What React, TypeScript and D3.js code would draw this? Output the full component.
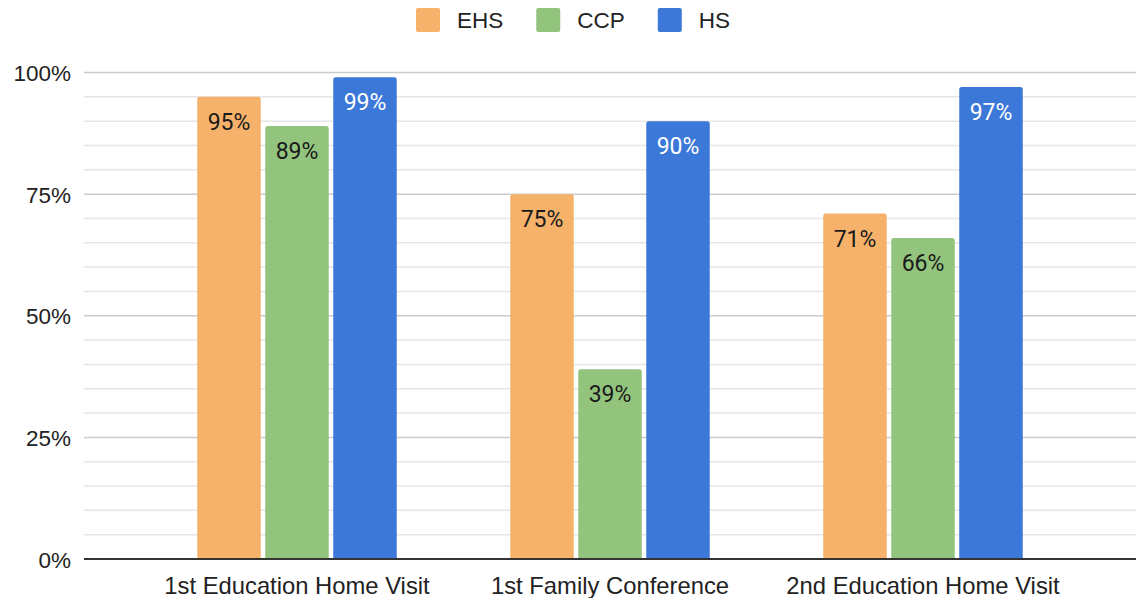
import React, { useEffect, useRef } from 'react';
import * as d3 from 'd3';

const categories = ['1st Education Home Visit', '1st Family Conference', '2nd Education Home Visit'];
const seriesNames = ['EHS', 'CCP', 'HS'];
const ehsValues = [0.95, 0.75, 0.71];
const ccpValues = [0.89, 0.39, 0.66];
const hsValues = [0.99, 0.9, 0.97];
const seriesColors = ['#f6b26b', '#93c47d', '#3c78d8'];
const labelColors = ['#1a1a1a', '#1a1a1a', '#ffffff'];
const majorTicks = [0, 0.25, 0.5, 0.75, 1];

const App: React.FC = () => {
  const svgRef = useRef<SVGSVGElement | null>(null);

  useEffect(() => {
    if (!svgRef.current) return;
    document.body.style.margin = '0';

    const width = 1138;
    const height = 598;
    const margin = { top: 72.5, right: 2, bottom: 39, left: 84 };
    const axisFont = 'Arial, "Liberation Sans", sans-serif';

    const svg = d3.select(svgRef.current);
    svg.selectAll('*').remove();
    svg.attr('width', width).attr('height', height).attr('viewBox', `0 0 ${width} ${height}`);

    const values = [ehsValues, ccpValues, hsValues];
    const rows = categories.map((c, i) => ({
      category: c,
      items: seriesNames.map((s, j) => ({ series: s, idx: j, value: values[j][i] })),
    }));

    const x0 = d3
      .scaleBand()
      .domain(categories)
      .range([margin.left, width - margin.right])
      .paddingInner(0.3626)
      .paddingOuter(0.3618);

    const x1 = d3.scaleBand().domain(seriesNames).range([0, x0.bandwidth()]).paddingInner(0.066);

    const y = d3
      .scaleLinear()
      .domain([0, 1])
      .range([height - margin.bottom, margin.top]);

    // Minor gridlines every 5%
    const minor = d3.range(0, 1.0001, 0.05).filter((t) => !majorTicks.some((m) => Math.abs(m - t) < 1e-6));
    svg
      .append('g')
      .selectAll('line')
      .data(minor)
      .enter()
      .append('line')
      .attr('x1', margin.left)
      .attr('x2', width - margin.right)
      .attr('y1', (d) => y(d))
      .attr('y2', (d) => y(d))
      .attr('stroke', '#e6e6e6')
      .attr('stroke-width', 1.5);

    // Major gridlines
    svg
      .append('g')
      .selectAll('line')
      .data(majorTicks.filter((t) => t > 0))
      .enter()
      .append('line')
      .attr('x1', margin.left)
      .attr('x2', width - margin.right)
      .attr('y1', (d) => y(d))
      .attr('y2', (d) => y(d))
      .attr('stroke', '#cccccc')
      .attr('stroke-width', 1.5);

    // Y axis labels
    const yAxis = d3
      .axisLeft(y)
      .tickValues(majorTicks)
      .tickSize(0)
      .tickPadding(13)
      .tickFormat((d) => d3.format('.0%')(d as number));
    const yg = svg.append('g').attr('transform', `translate(${margin.left},0)`).call(yAxis);
    yg.select('.domain').remove();
    yg.selectAll('text')
      .attr('fill', '#222')
      .attr('font-size', '22.5px')
      .attr('font-family', axisFont)
      .attr('dy', '0.36em');

    // Bars
    const groups = svg
      .selectAll('.grp')
      .data(rows)
      .enter()
      .append('g')
      .attr('class', 'grp')
      .attr('transform', (d) => `translate(${x0(d.category)},0)`);

    const r = 2.5;
    groups
      .selectAll('path')
      .data((d) => d.items)
      .enter()
      .append('path')
      .attr('fill', (d) => seriesColors[d.idx])
      .attr('d', (d) => {
        const bx = x1(d.series) || 0;
        const bw = x1.bandwidth();
        const top = y(d.value);
        const bottom = y(0);
        return `M${bx},${bottom}V${top + r}Q${bx},${top} ${bx + r},${top}H${bx + bw - r}Q${bx + bw},${top} ${bx + bw},${top + r}V${bottom}Z`;
      });

    groups
      .selectAll('text')
      .data((d) => d.items)
      .enter()
      .append('text')
      .attr('x', (d) => (x1(d.series) || 0) + x1.bandwidth() / 2)
      .attr('y', (d) => y(d.value) + 33)
      .attr('text-anchor', 'middle')
      .attr('fill', (d) => labelColors[d.idx])
      .attr('font-size', '23px')
      .attr('font-family', 'Roboto, "Noto Sans", sans-serif')
      .text((d) => d3.format('.0%')(d.value));

    // Baseline
    svg
      .append('line')
      .attr('x1', margin.left)
      .attr('x2', width - margin.right)
      .attr('y1', y(0))
      .attr('y2', y(0))
      .attr('stroke', '#333333')
      .attr('stroke-width', 2);

    // X axis labels
    const xAxis = d3.axisBottom(x0).tickSize(0).tickPadding(24);
    const xg = svg.append('g').attr('transform', `translate(0,${y(0)})`).call(xAxis);
    xg.select('.domain').remove();
    xg.selectAll('text')
      .attr('fill', '#222')
      .attr('font-size', '23.8px')
      .attr('font-family', axisFont)
      .attr('dy', '0.46em');

    // Legend
    const legend = svg.append('g');
    let cursor = 416;
    seriesNames.forEach((name, i) => {
      legend
        .append('rect')
        .attr('x', cursor)
        .attr('y', 8)
        .attr('width', 24)
        .attr('height', 24)
        .attr('rx', 2)
        .attr('fill', seriesColors[i]);
      const t = legend
        .append('text')
        .attr('x', cursor + 41)
        .attr('y', 28)
        .attr('fill', '#222')
        .attr('font-size', '22.5px')
        .attr('font-family', axisFont)
        .text(name);
      const w = (t.node() as SVGTextElement).getComputedTextLength();
      cursor += 41 + w + 33;
    });
  }, []);

  return <svg ref={svgRef} style={{ display: 'block', background: '#fff' }} />;
};

export default App;
